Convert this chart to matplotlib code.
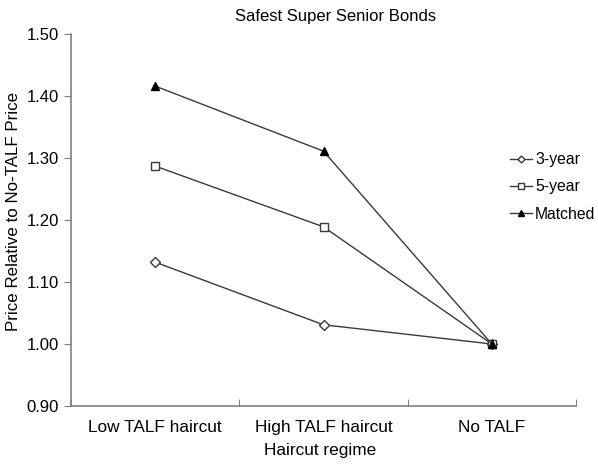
import numpy as np
import matplotlib.pyplot as plt

plt.rcParams['font.family'] = ['Liberation Sans', 'DejaVu Sans']

categories = ["Low TALF haircut", "High TALF haircut", "No TALF"]
three_year = [1.132, 1.031, 1.00]
five_year = [1.287, 1.189, 1.00]
matched = [1.416, 1.311, 1.00]

W, H = 598, 466
fig = plt.figure(figsize=(W / 100, H / 100), dpi=100)
ax = fig.add_axes([71 / W, 60 / H, 505 / W, 372 / H])

x = np.arange(len(categories))
line_kw = dict(color="#3a3a3a", linewidth=1.0, markersize=6)
ax.plot(x, three_year, marker="D", markersize=5, markerfacecolor="white",
        markeredgecolor="#3a3a3a", label="3-year", color="#3a3a3a", linewidth=1.0)
ax.plot(x, five_year, marker="s", markerfacecolor="white",
        markeredgecolor="#3a3a3a", label="5-year", **line_kw)
ax.plot(x, matched, marker="^", markerfacecolor="black",
        markeredgecolor="black", label="Matched", **line_kw)

ax.set_xlim(-0.5, 2.5)
ax.set_ylim(0.90, 1.50)
yt = np.arange(0.90, 1.501, 0.10)
ax.set_yticks(yt)
ax.set_yticklabels([f"{v:.2f}" for v in yt])
ax.set_xticks([-0.5, 0.5, 1.5, 2.5])
ax.set_xticklabels([])
ax.set_xticks(x, minor=True)
ax.set_xticklabels(categories, minor=True)
ax.tick_params(axis="x", which="minor", length=0, pad=10, labelsize=12.4)
ax.tick_params(axis="x", which="major", direction="in", length=5, color="#808080")
ax.tick_params(axis="y", direction="out", length=5, color="#808080", labelsize=12)

for s in ["top", "right"]:
    ax.spines[s].set_visible(False)
for s in ["left", "bottom"]:
    ax.spines[s].set_color("#808080")
    ax.spines[s].set_linewidth(1.2)

# titles placed in figure pixels to follow the original layout
fig.text(336 / W, 1 - 17 / H, "Safest Super Senior Bonds", ha="center", va="center", fontsize=12)
fig.text(320 / W, 1 - 450 / H, "Haircut regime", ha="center", va="center", fontsize=12.4)
fig.text(14 / W, 1 - 211 / H, "Price Relative to No-TALF Price", ha="center", va="center",
         rotation=90, fontsize=12.2)

ax.legend(loc="center left", bbox_to_anchor=(510 / W, 1 - 187 / H),
          bbox_transform=fig.transFigure, frameon=False,
          fontsize=11.3, handlelength=1.4, handletextpad=0.2, labelspacing=0.78,
          borderaxespad=0, borderpad=0, markerscale=0.7)

fig.savefig("out.png", dpi=100)
